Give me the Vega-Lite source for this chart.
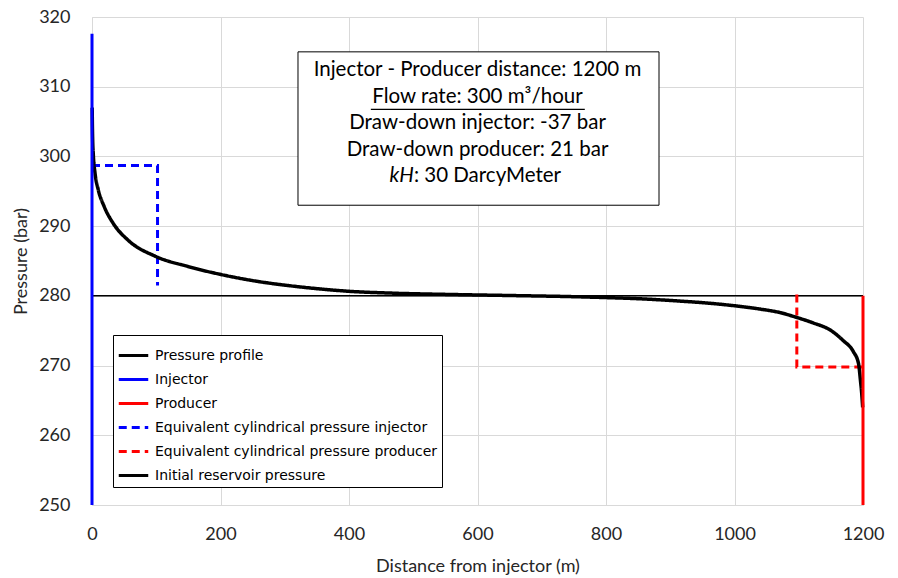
{
  "$schema": "https://vega.github.io/schema/vega-lite/v6.json",
  "width": 771,
  "height": 488,
  "autosize": {"type": "none"},
  "padding": {"left": 92, "top": 17, "right": 35, "bottom": 73},
  "background": "white",
  "config": {
    "font": "Lato",
    "view": {"stroke": null},
    "axis": {
      "grid": true,
      "gridColor": "#d9d9d9",
      "gridWidth": 1,
      "ticks": false,
      "domain": true,
      "domainColor": "#d9d9d9",
      "labelFont": "Lato",
      "labelFontSize": 18,
      "labelColor": "#262626",
      "labelFlush": false,
      "titleFont": "Lato",
      "titleFontSize": 18,
      "titleFontWeight": "normal",
      "titleColor": "#262626"
    }
  },
  "datasets": {
    "lines": [
      {"series": "Initial reservoir pressure", "i": 0, "x": 0, "p": 280},
      {"series": "Initial reservoir pressure", "i": 1, "x": 1200, "p": 280},
      {"series": "Equivalent cylindrical pressure injector", "i": 0, "x": 0, "p": 298.7},
      {"series": "Equivalent cylindrical pressure injector", "i": 1, "x": 102, "p": 298.7},
      {"series": "Equivalent cylindrical pressure injector", "i": 2, "x": 102, "p": 281.5},
      {"series": "Equivalent cylindrical pressure producer", "i": 0, "x": 1097, "p": 280.2},
      {"series": "Equivalent cylindrical pressure producer", "i": 1, "x": 1097, "p": 269.8},
      {"series": "Equivalent cylindrical pressure producer", "i": 2, "x": 1200, "p": 269.8},
      {"series": "Pressure profile", "i": 0, "x": 0.3, "p": 307},
      {"series": "Pressure profile", "i": 1, "x": 0.6, "p": 304.5},
      {"series": "Pressure profile", "i": 2, "x": 1, "p": 302.5},
      {"series": "Pressure profile", "i": 3, "x": 2, "p": 300.3},
      {"series": "Pressure profile", "i": 4, "x": 4.7, "p": 297.6},
      {"series": "Pressure profile", "i": 5, "x": 9.8, "p": 295.2},
      {"series": "Pressure profile", "i": 6, "x": 19, "p": 292.8},
      {"series": "Pressure profile", "i": 7, "x": 33, "p": 290.4},
      {"series": "Pressure profile", "i": 8, "x": 56, "p": 288.0},
      {"series": "Pressure profile", "i": 9, "x": 98, "p": 285.7},
      {"series": "Pressure profile", "i": 10, "x": 150, "p": 284.2},
      {"series": "Pressure profile", "i": 11, "x": 199, "p": 283.1},
      {"series": "Pressure profile", "i": 12, "x": 256, "p": 282.1},
      {"series": "Pressure profile", "i": 13, "x": 308, "p": 281.45},
      {"series": "Pressure profile", "i": 14, "x": 360, "p": 280.95},
      {"series": "Pressure profile", "i": 15, "x": 401, "p": 280.65},
      {"series": "Pressure profile", "i": 16, "x": 464, "p": 280.4},
      {"series": "Pressure profile", "i": 17, "x": 557, "p": 280.2},
      {"series": "Pressure profile", "i": 18, "x": 650, "p": 280.05},
      {"series": "Pressure profile", "i": 19, "x": 750, "p": 279.88},
      {"series": "Pressure profile", "i": 20, "x": 800, "p": 279.75},
      {"series": "Pressure profile", "i": 21, "x": 848, "p": 279.6},
      {"series": "Pressure profile", "i": 22, "x": 880, "p": 279.45},
      {"series": "Pressure profile", "i": 23, "x": 915, "p": 279.25},
      {"series": "Pressure profile", "i": 24, "x": 960, "p": 278.95},
      {"series": "Pressure profile", "i": 25, "x": 998, "p": 278.6},
      {"series": "Pressure profile", "i": 26, "x": 1040, "p": 278.1},
      {"series": "Pressure profile", "i": 27, "x": 1071, "p": 277.6},
      {"series": "Pressure profile", "i": 28, "x": 1097, "p": 276.9},
      {"series": "Pressure profile", "i": 29, "x": 1123, "p": 276.1},
      {"series": "Pressure profile", "i": 30, "x": 1149, "p": 275.1},
      {"series": "Pressure profile", "i": 31, "x": 1169, "p": 273.6},
      {"series": "Pressure profile", "i": 32, "x": 1185, "p": 272.0},
      {"series": "Pressure profile", "i": 33, "x": 1193, "p": 270.3},
      {"series": "Pressure profile", "i": 34, "x": 1196, "p": 267.9},
      {"series": "Pressure profile", "i": 35, "x": 1198, "p": 266.0},
      {"series": "Pressure profile", "i": 36, "x": 1199.5, "p": 264.0},
      {"series": "Injector", "i": 0, "x": 0, "p": 250},
      {"series": "Injector", "i": 1, "x": 0, "p": 317.6},
      {"series": "Producer", "i": 0, "x": 1200, "p": 250},
      {"series": "Producer", "i": 1, "x": 1200, "p": 280}
    ],
    "box": [{"x1": 320.6, "x2": 882.5, "y1": 315.0, "y2": 293.0}],
    "notes": [
      {"text": "Injector - Producer distance: 1200 m", "x": 600, "y": 312.35},
      {"text": "Flow rate: 300 m³/hour", "x": 600, "y": 308.55},
      {"text": "Draw-down injector: -37 bar", "x": 600, "y": 304.75},
      {"text": "Draw-down producer: 21 bar", "x": 600, "y": 300.95}
    ],
    "kh1": [{"text": "kH", "x": 501, "y": 297.15}],
    "kh2": [{"text": ": 30 DarcyMeter", "x": 501, "y": 297.15}],
    "underline": [{"x1": 434, "x2": 767, "y": 306.75}]
  },
  "layer": [
    {
      "data": {"name": "box"},
      "mark": {"type": "rect", "fill": "white", "stroke": "black", "strokeWidth": 1},
      "encoding": {
        "x": {"field": "x1", "type": "quantitative", "scale": {"domain": [0, 1200], "nice": false}, "axis": {"values": [0, 200, 400, 600, 800, 1000, 1200], "format": "d", "title": "Distance from injector (m)", "labelPadding": 20, "titlePadding": 14}},
        "x2": {"field": "x2"},
        "y": {"field": "y1", "type": "quantitative", "scale": {"domain": [250, 320], "nice": false}, "axis": {"values": [250, 260, 270, 280, 290, 300, 310, 320], "format": "d", "title": "Pressure (bar)", "labelPadding": 22, "titlePadding": 8}},
        "y2": {"field": "y2"}
      }
    },
    {
      "data": {"name": "notes"},
      "mark": {"type": "text", "fontSize": 20.5, "color": "black", "baseline": "middle", "align": "center"},
      "encoding": {
        "x": {"field": "x", "type": "quantitative"},
        "y": {"field": "y", "type": "quantitative"},
        "text": {"field": "text"}
      }
    },
    {
      "data": {"name": "kh1"},
      "mark": {"type": "text", "fontSize": 20.5, "color": "black", "baseline": "middle", "align": "right", "fontStyle": "italic"},
      "encoding": {
        "x": {"field": "x", "type": "quantitative"},
        "y": {"field": "y", "type": "quantitative"},
        "text": {"field": "text"}
      }
    },
    {
      "data": {"name": "kh2"},
      "mark": {"type": "text", "fontSize": 20.5, "color": "black", "baseline": "middle", "align": "left"},
      "encoding": {
        "x": {"field": "x", "type": "quantitative"},
        "y": {"field": "y", "type": "quantitative"},
        "text": {"field": "text"}
      }
    },
    {
      "data": {"name": "underline"},
      "mark": {"type": "rule", "color": "black", "strokeWidth": 1.3},
      "encoding": {
        "x": {"field": "x1", "type": "quantitative"},
        "x2": {"field": "x2"},
        "y": {"field": "y", "type": "quantitative"}
      }
    },
    {
      "data": {"name": "lines"},
      "transform": [{"filter": "datum.series === 'Initial reservoir pressure'"}],
      "mark": {"type": "line", "strokeWidth": 1.5},
      "encoding": {
        "x": {"field": "x", "type": "quantitative"},
        "y": {"field": "p", "type": "quantitative"},
        "order": {"field": "i"},
        "color": {"field": "series", "type": "nominal", "scale": {"domain": ["Pressure profile", "Injector", "Producer", "Equivalent cylindrical pressure injector", "Equivalent cylindrical pressure producer", "Initial reservoir pressure"], "range": ["black", "#0000ff", "#ff0000", "#0000ff", "#ff0000", "black"]}, "legend": {"title": null, "orient": "none", "legendX": 21, "legendY": 318, "symbolType": "stroke", "symbolStrokeWidth": 3, "symbolSize": 870, "labelFont": "DejaVu Sans", "labelFontSize": 14, "labelColor": "black", "labelOffset": 5, "rowPadding": -14, "padding": 4, "strokeColor": "black", "fillColor": "white", "labelLimit": 400}},
        "strokeDash": {"field": "series", "type": "nominal", "scale": {"domain": ["Pressure profile", "Injector", "Producer", "Equivalent cylindrical pressure injector", "Equivalent cylindrical pressure producer", "Initial reservoir pressure"], "range": [[1, 0], [1, 0], [1, 0], [8, 5], [8, 5], [1, 0]]}, "legend": {"title": null, "orient": "none", "legendX": 21, "legendY": 318, "symbolType": "stroke", "symbolStrokeWidth": 3, "symbolSize": 870, "labelFont": "DejaVu Sans", "labelFontSize": 14, "labelColor": "black", "labelOffset": 5, "rowPadding": -14, "padding": 4, "strokeColor": "black", "fillColor": "white", "labelLimit": 400}}
      }
    },
    {
      "data": {"name": "lines"},
      "transform": [{"filter": "datum.series === 'Equivalent cylindrical pressure injector' || datum.series === 'Equivalent cylindrical pressure producer'"}],
      "mark": {"type": "line", "strokeWidth": 3},
      "encoding": {
        "x": {"field": "x", "type": "quantitative"},
        "y": {"field": "p", "type": "quantitative"},
        "order": {"field": "i"},
        "color": {"field": "series", "type": "nominal"},
        "strokeDash": {"field": "series", "type": "nominal"}
      }
    },
    {
      "data": {"name": "lines"},
      "transform": [{"filter": "datum.series === 'Pressure profile'"}],
      "mark": {"type": "line", "strokeWidth": 3.5, "interpolate": "monotone"},
      "encoding": {
        "x": {"field": "x", "type": "quantitative"},
        "y": {"field": "p", "type": "quantitative"},
        "order": {"field": "i"},
        "color": {"field": "series", "type": "nominal"},
        "strokeDash": {"field": "series", "type": "nominal"}
      }
    },
    {
      "data": {"name": "lines"},
      "transform": [{"filter": "datum.series === 'Injector' || datum.series === 'Producer'"}],
      "mark": {"type": "line", "strokeWidth": 3},
      "encoding": {
        "x": {"field": "x", "type": "quantitative"},
        "y": {"field": "p", "type": "quantitative"},
        "order": {"field": "i"},
        "color": {"field": "series", "type": "nominal"},
        "strokeDash": {"field": "series", "type": "nominal"}
      }
    }
  ]
}
